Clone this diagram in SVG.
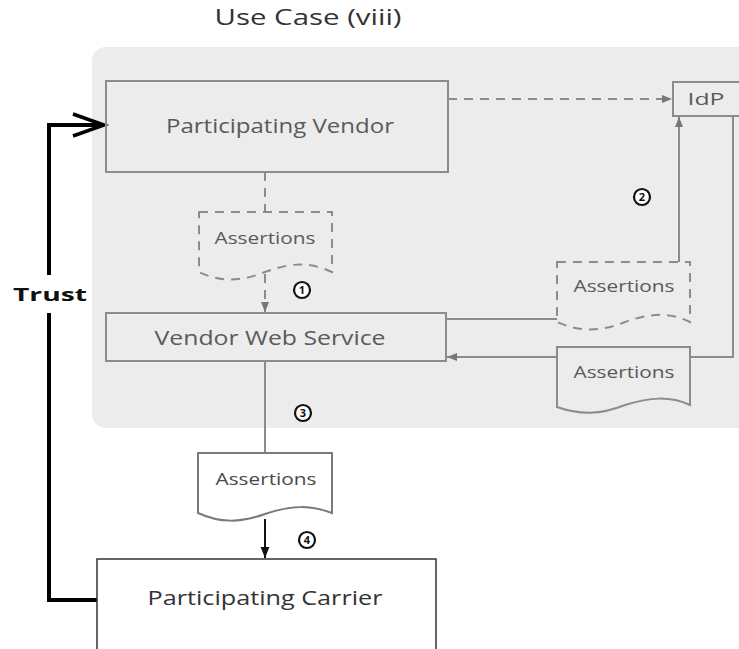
<svg xmlns="http://www.w3.org/2000/svg" width="739" height="649" viewBox="0 0 739 649">
<style>
.box{fill:none;stroke:#8c8c8c;stroke-width:2}
.lbl{font-family:"Open Sans","Liberation Sans",sans-serif;fill:#5a5a5a;text-anchor:middle}
.con{fill:none;stroke:#8c8c8c;stroke-width:2}
.dash{stroke-dasharray:9,7}
.num{fill:#fff;stroke:#111;stroke-width:2.2}
.numt{font-family:"Open Sans","Liberation Sans",sans-serif;font-weight:bold;font-size:11px;fill:#111;text-anchor:middle}
</style>
<defs>
<marker id="ag2" viewBox="0 0 10 10" refX="10" refY="5" markerWidth="10" markerHeight="10" orient="auto" markerUnits="userSpaceOnUse">
<path d="M0,1 L10,5 L0,9 Z" fill="#777"/>
</marker>
<marker id="ab" viewBox="0 0 10 10" refX="10" refY="5" markerWidth="11" markerHeight="11" orient="auto" markerUnits="userSpaceOnUse">
<path d="M0,1 L10,5 L0,9 Z" fill="#111"/>
</marker>
</defs>
<rect width="739" height="649" fill="#fff"/>
<text x="308" y="25" font-family="Open Sans, Liberation Sans, sans-serif" font-size="21" fill="#333" text-anchor="middle" textLength="187" lengthAdjust="spacingAndGlyphs">Use Case (viii)</text>
<g id="panel">
<rect x="92" y="47" width="660" height="381" rx="14" fill="#ececec"/>
</g>
<g id="connectors">
<line class="con dash" x1="448" y1="99" x2="672" y2="99" marker-end="url(#ag2)"/>
<line class="con dash" x1="265" y1="172" x2="265" y2="212"/>
<line class="con dash" x1="265" y1="274" x2="265" y2="312" marker-end="url(#ag2)"/>
<line class="con" x1="446" y1="319" x2="557" y2="319"/>
<line class="con" x1="679" y1="262" x2="679" y2="117" marker-end="url(#ag2)"/>
<polyline class="con" points="690,357 733,357 733,116"/>
<line class="con" x1="557" y1="357" x2="447" y2="357" marker-end="url(#ag2)"/>
<line class="con" x1="265" y1="361" x2="265" y2="453"/>
<line x1="265" y1="519" x2="265" y2="558" stroke="#111" stroke-width="2" marker-end="url(#ab)"/>
<polyline points="97,600 49,600 49,313" fill="none" stroke="#000" stroke-width="4"/>
<polyline points="49,275 49,125 104,125" fill="none" stroke="#000" stroke-width="4"/>
<polyline points="73,114 104,125 73,136" fill="none" stroke="#000" stroke-width="3.5"/>
<text x="50" y="301" font-family="Open Sans, Liberation Sans, sans-serif" font-weight="bold" font-size="18" fill="#111" text-anchor="middle" textLength="74" lengthAdjust="spacingAndGlyphs">Trust</text>
</g>
<g id="participating-vendor">
<rect class="box" x="106" y="81" width="342" height="91"/>
<text class="lbl" x="280" y="133" font-size="20" textLength="228" lengthAdjust="spacingAndGlyphs">Participating Vendor</text>
</g>
<g id="idp">
<rect class="box" x="673" y="82" width="70" height="34"/>
<text class="lbl" x="706" y="105" font-size="16" textLength="37" lengthAdjust="spacingAndGlyphs">IdP</text>
</g>
<g id="assertions-1">
<path class="box dash" d="M199,212 H332 V272 C310,262 292,262 265,272 C240,282 220,282 199,272 Z" fill="#ececec"/>
<text class="lbl" x="265" y="244" font-size="16" textLength="101" lengthAdjust="spacingAndGlyphs">Assertions</text>
</g>
<g id="step-1">
<circle class="num" cx="302" cy="290" r="8"/>
<text class="numt" x="302" y="294">1</text>
</g>
<g id="vendor-web-service">
<rect class="box" x="106" y="313" width="340" height="48"/>
<text class="lbl" x="270" y="345" font-size="20" textLength="231" lengthAdjust="spacingAndGlyphs">Vendor Web Service</text>
</g>
<g id="step-2">
<circle class="num" cx="642" cy="197" r="8"/>
<text class="numt" x="642" y="201">2</text>
</g>
<g id="assertions-2">
<path class="box dash" d="M557,262 H690 V322 C670,312 650,313 625,322 C600,332 580,332 557,322 Z" fill="#ececec"/>
<text class="lbl" x="624" y="292" font-size="16" textLength="101" lengthAdjust="spacingAndGlyphs">Assertions</text>
</g>
<g id="assertions-4">
<path class="box" d="M557,347 H690 V405 C670,396 650,397 625,405 C600,415 580,415 557,407 Z" fill="#ececec"/>
<text class="lbl" x="624" y="378" font-size="16" textLength="101" lengthAdjust="spacingAndGlyphs">Assertions</text>
</g>
<g id="step-3">
<circle class="num" cx="303" cy="413" r="8"/>
<text class="numt" x="303" y="417">3</text>
</g>
<g id="assertions-3">
<path d="M198,453 H332 V513 C310,505 292,505 265,514 C240,523 220,523 198,513 Z" fill="#fff" stroke="#7a7a7a" stroke-width="2"/>
<text class="lbl" x="266" y="485" font-size="16" style="fill:#4a4a4a" textLength="101" lengthAdjust="spacingAndGlyphs">Assertions</text>
</g>
<g id="step-4">
<circle class="num" cx="307" cy="540" r="8"/>
<text class="numt" x="307" y="544">4</text>
</g>
<g id="participating-carrier">
<rect x="97" y="559" width="339" height="100" fill="#fff" stroke="#333" stroke-width="1.5"/>
<text class="lbl" x="265" y="605" font-size="20" style="fill:#333" textLength="235" lengthAdjust="spacingAndGlyphs">Participating Carrier</text>
</g>
</svg>
